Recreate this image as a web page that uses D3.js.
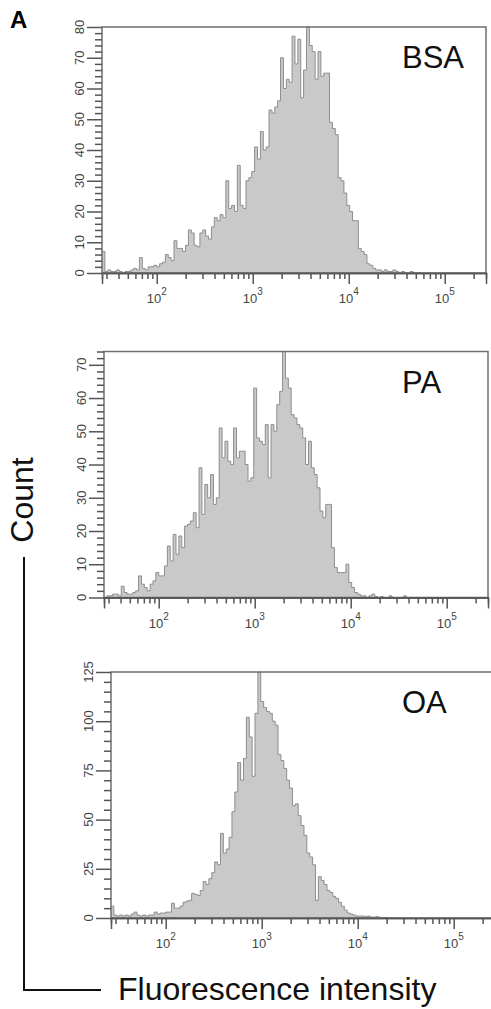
<!DOCTYPE html>
<html><head><meta charset="utf-8">
<script src="https://cdn.jsdelivr.net/npm/d3@7"></script>
<style>body{margin:0;background:#fff}svg{display:block;font-family:"Liberation Sans",Arial,sans-serif}</style>
</head><body><svg id="c" width="491" height="1009"></svg>
<script>
// ---- data ----
const binStart = 1.43;   // log10 of first bin's left edge
const binWidth = 0.03;   // bin width in decades
const panelNames = ["BSA", "PA", "OA"];
const bsaCounts = [
  7,0.5,1,0.5,0.5,1,0.5,0,0.5,0.5,
  1,1.5,1,5,1.5,1,2,2,2.5,2,
  3,3.5,6,5,4,10.5,8,8,7,9,
  14,13,9,8.5,13,14,12,11,15,18,
  17,19,18,30,21,22,20,35,22,21,
  30,31,33,41,37,46,40,41,53,52,
  54,56,70,60,63,62,77,68,76,57,
  66,80,74,72,63,72,64,65,65,49,
  47,45,31,30,26,22,20,17,17,8,
  7,6,3,2.5,1.5,1,1,0.5,1,0.5,
  0.5,1,0.5,0,0.5,0,0,0.5,0,0,0
];
const paCounts = [
  0,0.5,0.5,1,1,0.5,3.4,1.5,1,1,
  1.5,2,6.5,4,3,2,4,5,7.5,6.5,
  6.5,9.5,15.5,11,19,13,18.5,15,21.5,22,
  23,25.5,21,39,25,34,30,37,28,30,
  51,42,47,41,40,51,42,44,44,40,
  35,36,63,48,47,46,52,36,52,50,
  58,62,74,66,63,55,54,52,51,48,
  40,47,39,37,33,26,24,28,28,15,
  9,7.5,7.5,7.5,10,4.5,3,1.5,1,0.5,
  0.5,0,0.5,1,0.3,0,0.3,0,0,0.5,
  0,0,0,0,0.5,0,0
];
const oaCounts = [
  6,1.5,1,1.5,1,1.5,1,2,3,1.5,
  1,1.5,1,1.5,1.5,3,2,2.5,2.5,3,
  3,7.5,5,5,6,8,8.5,9,12.5,12,
  11.5,14,18.5,17,20,23,28.5,27,43,33,
  35,41,54,64,79,70,81,102,92,72,
  104,125,110,107,105,104,100,98,83,80,
  76,70,66,57,58,52,47,42,33,31,
  27,9,21,19,17,14,13,11,10,8,
  6,4,2.5,2,1.5,1,1,1,0.7,1,
  0.5,0.5,0.7,0.3,0,0.3,0,0
];
const yMaxes = [80, 74, 125];
const yMajorSteps = [10, 10, 25];
const yMinorSteps = [2, 2, 5];
const xDomainLog = [1.43, 5.43];
const xMajorTicks = [1e2, 1e3, 1e4, 1e5];
const xMajorExps = ["2", "3", "4", "5"];
const yAxisTitle = "Count";
const xAxisTitle = "Fluorescence intensity";
const panelLetter = "A";

// ---- layout ----
const series = [bsaCounts, paCounts, oaCounts];
const layout = [
  {left: 102, top: 27, bottom: 273},
  {left: 104, top: 351.5, bottom: 597.5},
  {left: 111, top: 672, bottom: 918}
];
const W = 384;
const svg = d3.select("#c");
const fillCol = "#c9c9c9", lineCol = "#8d8d8d", frameCol = "#6f6f6f", tickCol = "#555";

// minor x ticks (2..9 x 10^d) inside domain
const xMinorTicks = [];
for (let d = 1; d <= 5; d++) for (let k = 2; k <= 9; k++) {
  const v = k * Math.pow(10, d);
  const l = Math.log10(v);
  if (l >= xDomainLog[0] && l <= xDomainLog[1]) xMinorTicks.push(v);
}

series.forEach((counts, p) => {
  const L = layout[p];
  const x = d3.scaleLog().domain([Math.pow(10, xDomainLog[0]), Math.pow(10, xDomainLog[1])]).range([L.left, L.left + W]);
  const y = d3.scaleLinear().domain([0, yMaxes[p]]).range([L.bottom, L.top]);
  const pts = counts.map((c, i) => ({x: Math.pow(10, binStart + i * binWidth), c}));
  pts.push({x: Math.pow(10, binStart + counts.length * binWidth), c: 0});

  const clipId = "clip" + p;
  svg.append("clipPath").attr("id", clipId).append("rect")
    .attr("x", L.left).attr("y", L.top - 1).attr("width", W).attr("height", L.bottom - L.top + 1);
  const g = svg.append("g").attr("clip-path", `url(#${clipId})`);
  g.append("path").datum(pts)
    .attr("d", d3.area().curve(d3.curveStepAfter).x(d => x(d.x)).y0(y(0)).y1(d => y(d.c)))
    .attr("fill", fillCol);
  g.append("path").datum(pts)
    .attr("d", d3.line().curve(d3.curveStepAfter).x(d => x(d.x)).y(d => y(d.c)))
    .attr("fill", "none").attr("stroke", lineCol).attr("stroke-width", 1);

  // frame
  svg.append("rect").attr("x", L.left).attr("y", L.top).attr("width", W).attr("height", L.bottom - L.top)
    .attr("fill", "none").attr("stroke", frameCol).attr("stroke-width", 1.5);

  // x axis
  const xMinorAxis = d3.axisBottom(x).tickValues(xMinorTicks).tickSize(6).tickFormat("");
  const xMajorAxis = d3.axisBottom(x).tickValues(xMajorTicks).tickSize(11).tickFormat("");
  [xMinorAxis, xMajorAxis].forEach(ax => {
    const ga = svg.append("g").attr("transform", `translate(0,${L.bottom})`).call(ax);
    ga.select(".domain").attr("stroke", tickCol).attr("stroke-width", 1.5);
    ga.selectAll(".tick line").attr("stroke", tickCol).attr("stroke-width", 1.5);
  });
  xMajorTicks.forEach((v, i) => {
    const t = svg.append("text").attr("x", x(v)).attr("y", L.bottom + 30)
      .attr("text-anchor", "middle").attr("fill", "#444").attr("font-size", 13);
    t.append("tspan").text("10");
    t.append("tspan").attr("dy", -8).attr("font-size", 10).text(xMajorExps[i]);
  });

  // y axis
  const majors = d3.range(0, yMaxes[p] + 0.001, yMajorSteps[p]);
  const minors = d3.range(0, yMaxes[p] + 0.001, yMinorSteps[p]).filter(v => majors.indexOf(v) < 0);
  const yMinorAxis = d3.axisLeft(y).tickValues(minors).tickSize(7).tickFormat("");
  const yMajorAxis = d3.axisLeft(y).tickValues(majors).tickSize(15).tickFormat("");
  [yMinorAxis, yMajorAxis].forEach(ax => {
    const ga = svg.append("g").attr("transform", `translate(${L.left},0)`).call(ax);
    ga.select(".domain").remove();
    ga.selectAll(".tick line").attr("stroke", tickCol).attr("stroke-width", 1.5);
  });
  majors.forEach(v => {
    svg.append("text").attr("transform", `translate(${L.left - 18},${y(v)}) rotate(-90)`)
      .attr("text-anchor", "middle").attr("fill", "#444").attr("font-size", 13).text(d3.format("d")(v));
  });

  // panel name
  svg.append("text").attr("x", 402).attr("y", L.top + 41).attr("font-size", 31).attr("fill", "#111")
    .text(panelNames[p]);
});

// panel letter
svg.append("text").attr("x", 10).attr("y", 28).attr("font-size", 24).attr("font-weight", "bold").text(panelLetter);

// bracket axes titles
svg.append("path").attr("d", "M24,557 V990 H101").attr("fill", "none").attr("stroke", "#111").attr("stroke-width", 2);
svg.append("text").attr("transform", "translate(33,500) rotate(-90)").attr("text-anchor", "middle")
  .attr("font-size", 32).attr("fill", "#111").text(yAxisTitle);
svg.append("text").attr("x", 118).attr("y", 1000).attr("font-size", 32).attr("fill", "#111").text(xAxisTitle);
</script></body></html>
